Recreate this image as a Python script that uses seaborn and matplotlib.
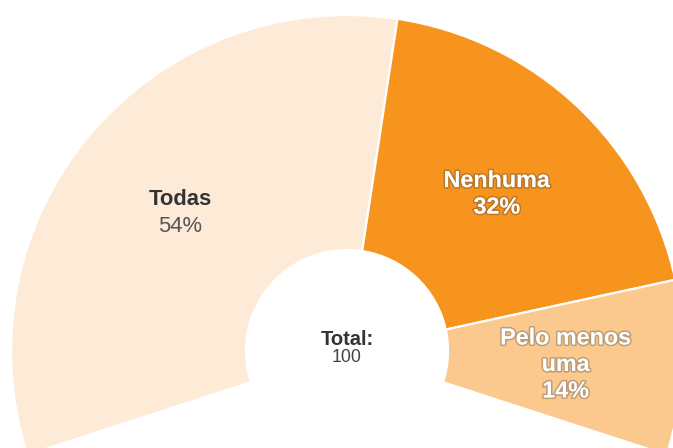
import numpy as np
import matplotlib
matplotlib.use("Agg")
import matplotlib.pyplot as plt
import matplotlib.patheffects as pe
import seaborn as sns

# Survey answer shares (%)
categories = ["Todas", "Nenhuma", "Pelo menos\numa"]
shares = [54, 32, 14]
total_label = "Total:"
total_value = "100"

sns.set_theme(style="white")
plt.rcParams["font.family"] = ["Liberation Sans", "DejaVu Sans"]

palette = sns.color_palette(["#FDEBD8", "#F7941E", "#FBC98E"])

W, H = 673, 448
fig = plt.figure(figsize=(W / 100, H / 100), dpi=100)
ax = fig.add_axes([0, 0, 1, 1])

# Ring geometry (in pixel-sized data units)
cx, cy = 347, H - 351
r_out, r_in = 336, 101
span = 0.6                      # ring covers 216 degrees
start = 90 + span * 180         # start at lower left, run clockwise

fractions = [s / 100 * span for s in shares]
wedges, _ = ax.pie(
    fractions, normalize=False, colors=palette, startangle=start,
    counterclock=False, center=(cx, cy), radius=r_out,
    wedgeprops=dict(width=r_out - r_in, edgecolor="white", linewidth=1.6),
)

ax.set_xlim(0, W)
ax.set_ylim(0, H)
ax.set_aspect("equal")
ax.axis("off")

# Slice labels placed at each wedge's mid-angle
label_r = 219
line_gap = 26.5
halo = [pe.withStroke(linewidth=2.2, foreground=(0.2, 0.2, 0.2, 0.3))]
for w, name, val, col in zip(wedges, categories, shares, palette):
    mid = np.deg2rad((w.theta1 + w.theta2) / 2)
    lx = cx + label_r * np.cos(mid)
    ly = cy + label_r * np.sin(mid)
    lines = name.split("\n") + [f"{val}%"]
    n = len(lines)
    light = name != "Todas"
    for i, txt in enumerate(lines):
        off = (i - (n - 1) / 2) * line_gap + 9
        is_val = i == n - 1
        if light:
            ax.text(lx, ly - off, txt, ha="center", va="baseline",
                    fontsize=16.8, fontweight="bold", color="white",
                    path_effects=halo)
        else:
            ax.text(lx, ly - off, txt, ha="center", va="baseline",
                    fontsize=15.8, fontweight="normal" if is_val else "bold",
                    color="#555555" if is_val else "#333333")

# Centre total
ax.text(cx, cy + 6, total_label, ha="center", va="baseline",
        fontsize=14.5, fontweight="bold", color="#333333")
ax.text(cx, cy - 11, total_value, ha="center", va="baseline",
        fontsize=12.8, color="#444444")

fig.savefig("out.png", dpi=100, facecolor="white")
